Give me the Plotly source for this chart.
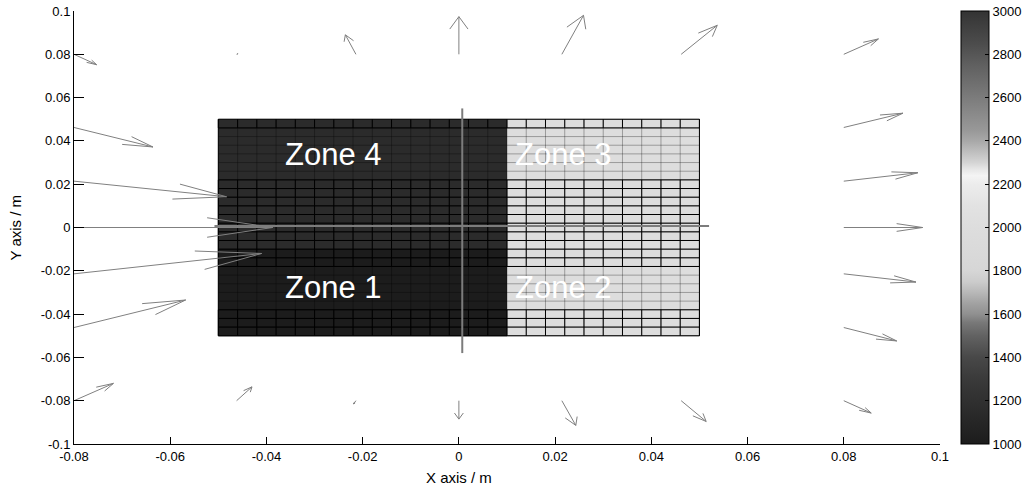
import numpy as np
import plotly.graph_objects as go

# ---------------- data ----------------
# mesh node coordinates (m)
mesh_x = [-0.050, -0.046, -0.042, -0.038, -0.034, -0.030, -0.026, -0.022, -0.018,
          -0.014, -0.010, -0.006, -0.002, 0.002, 0.006, 0.010, 0.014, 0.018,
          0.022, 0.026, 0.030, 0.034, 0.038, 0.042, 0.046, 0.050]
mesh_y = [-0.050, -0.046, -0.042, -0.038, -0.034, -0.030, -0.026, -0.022, -0.018,
          -0.014, -0.010, -0.006, -0.002, 0.002, 0.006, 0.010, 0.014, 0.018,
          0.022, 0.026, 0.030, 0.034, 0.038, 0.042, 0.046, 0.050]

# zone values (colour scale units)
zone_names = ["Zone 1", "Zone 2", "Zone 3", "Zone 4"]
zone_values = [1000, 2000, 2000, 1150]
zone_split_x = 0.010
zone_split_y = -0.010

# horizontal bands of the mesh drawn with black edges (y ranges)
black_bands = [(0.046, 0.050), (-0.018, 0.022), (-0.050, -0.038)]

# zone label anchor positions
label_x = [-0.0366, 0.0112, 0.0112, -0.0366]
label_y = [-0.0275, -0.0275, 0.0335, 0.0335]

# quiver: start points and vectors
arrow_x = [-0.08, -0.08, -0.08, -0.08, -0.08, -0.08, -0.08,
           -0.0462, -0.0214, 0.0, 0.0214, 0.0462,
           0.08, 0.08, 0.08, 0.08, 0.08, 0.08, 0.08,
           -0.0462, -0.0214, 0.0, 0.0214, 0.0462]
arrow_y = [0.08, 0.0462, 0.0214, 0.0, -0.0214, -0.0462, -0.08,
           0.08, 0.08, 0.08, 0.08, 0.08,
           0.08, 0.0462, 0.0214, 0.0, -0.0214, -0.0462, -0.08,
           -0.08, -0.08, -0.08, -0.08, -0.08]
arrow_u = [0.0047, 0.0164, 0.0317, 0.0413, 0.0390, 0.0232, 0.0082,
           0.0003, -0.0022, 0.0, 0.0045, 0.0075,
           0.0072, 0.0123, 0.0154, 0.0164, 0.0150, 0.0110, 0.0057,
           0.0032, -0.0005, 0.0, 0.0029, 0.0052]
arrow_v = [-0.0048, -0.0090, -0.0072, 0.0, 0.0094, 0.0127, 0.0080,
           0.0003, 0.0090, 0.0174, 0.0180, 0.0134,
           0.0071, 0.0066, 0.0039, 0.0, -0.0038, -0.0062, -0.0057,
           0.0064, -0.0015, -0.0085, -0.0114, -0.0096]

# cross-hair lines through the mesh
cross_h_x = [-0.0508, 0.0520]
cross_h_y = [0.0007, 0.0007]
cross_v_x = [0.0007, 0.0007]
cross_v_y = [-0.0580, 0.0550]

# colour map (value, grey level)
cmap_vals = [1000, 1100, 1200, 1300, 1400, 1500, 1560, 1600, 1650, 1700, 1750,
             1800, 1900, 2000, 2100, 2200, 2240, 2270, 2300, 2350, 2400, 2450,
             2550, 2650, 2750, 2850, 2950, 3000]
cmap_grey = [28, 38, 48, 58, 72, 98, 120, 144, 162, 184, 204,
             214, 218, 221, 226, 236, 244, 230, 212, 190, 168, 152,
             133, 114, 96, 76, 60, 51]
cbar_ticks = [1000, 1200, 1400, 1600, 1800, 2000, 2200, 2400, 2600, 2800, 3000]

x_ticks = [-0.08, -0.06, -0.04, -0.02, 0, 0.02, 0.04, 0.06, 0.08, 0.1]
x_ticktext = ["-0.08", "-0.06", "-0.04", "-0.02", "0", "0.02", "0.04", "0.06", "0.08", "0.1"]
y_ticks = [-0.1, -0.08, -0.06, -0.04, -0.02, 0, 0.02, 0.04, 0.06, 0.08, 0.1]
y_ticktext = ["-0.1", "-0.08", "-0.06", "-0.04", "-0.02", "0", "0.02", "0.04", "0.06", "0.08", "0.1"]

# ---------------- build ----------------
mx = np.array(mesh_x)
my = np.array(mesh_y)
cx = (mx[:-1] + mx[1:]) / 2
cy = (my[:-1] + my[1:]) / 2
CX, CY = np.meshgrid(cx, cy)
zmap = dict(zip(zone_names, zone_values))
Z = np.where(CX < zone_split_x,
             np.where(CY < zone_split_y, zmap["Zone 1"], zmap["Zone 4"]),
             np.where(CY < zone_split_y, zmap["Zone 2"], zmap["Zone 3"]))

vmin, vmax = min(cmap_vals), max(cmap_vals)
colorscale = [[(v - vmin) / (vmax - vmin), f"rgb({g},{g},{g})"] for v, g in zip(cmap_vals, cmap_grey)]

fig = go.Figure()
fig.add_trace(go.Heatmap(
    x=mesh_x, y=mesh_y, z=Z, zmin=vmin, zmax=vmax, colorscale=colorscale,
    hoverinfo="skip",
    colorbar=dict(
        thickness=28, thicknessmode="pixels", len=1.0, lenmode="fraction",
        x=1.0242, xanchor="left", xpad=0, y=0.5, yanchor="middle", ypad=0,
        outlinecolor="black", outlinewidth=1,
        tickvals=cbar_ticks, ticktext=[str(t) for t in cbar_ticks],
        ticks="inside", ticklen=4, tickcolor="black",
        tickfont=dict(family="Arial, Liberation Sans", size=13, color="black"),
    ),
))

# faint mesh lines everywhere
fx, fy = [], []
for xv in mesh_x:
    fx += [xv, xv, None]
    fy += [mesh_y[0], mesh_y[-1], None]
for yv in mesh_y:
    fx += [mesh_x[0], mesh_x[-1], None]
    fy += [yv, yv, None]
fig.add_trace(go.Scatter(x=fx, y=fy, mode="lines", line=dict(color="rgba(0,0,0,0.3)", width=1),
                         hoverinfo="skip", showlegend=False))

# black mesh lines in the banded regions
bx, by = [], []
eps = 1e-9
for (y0, y1) in black_bands:
    for xv in mesh_x:
        bx += [xv, xv, None]
        by += [y0, y1, None]
    for yv in mesh_y:
        if y0 - eps <= yv <= y1 + eps:
            bx += [mesh_x[0], mesh_x[-1], None]
            by += [yv, yv, None]
# outer boundary
for xv in (mesh_x[0], mesh_x[-1]):
    bx += [xv, xv, None]
    by += [mesh_y[0], mesh_y[-1], None]
fig.add_trace(go.Scatter(x=bx, y=by, mode="lines", line=dict(color="black", width=1),
                         hoverinfo="skip", showlegend=False))

# cross-hair lines
fig.add_trace(go.Scatter(x=cross_h_x + [None] + cross_v_x, y=cross_h_y + [None] + cross_v_y,
                         mode="lines", line=dict(color="#7c7c7c", width=2),
                         hoverinfo="skip", showlegend=False))

# quiver arrows (MATLAB-style heads)
alpha, beta = 0.33, 0.33
ax_, ay_ = [], []
for x0, y0, u, v in zip(arrow_x, arrow_y, arrow_u, arrow_v):
    tx, ty = x0 + u, y0 + v
    ax_ += [x0, tx, None]
    ay_ += [y0, ty, None]
    h1x = tx - alpha * (u + beta * v)
    h1y = ty - alpha * (v - beta * u)
    h2x = tx - alpha * (u - beta * v)
    h2y = ty - alpha * (v + beta * u)
    ax_ += [h1x, tx, h2x, None]
    ay_ += [h1y, ty, h2y, None]
fig.add_trace(go.Scatter(x=ax_, y=ay_, mode="lines", line=dict(color="#808080", width=1),
                         hoverinfo="skip", showlegend=False))

for name, lx, ly in zip(zone_names, label_x, label_y):
    fig.add_annotation(x=lx, y=ly, xref="x", yref="y", text=name, showarrow=False,
                       xanchor="left", yanchor="middle",
                       font=dict(family="Arial, Liberation Sans", size=31, color="white"))

# axis titles
fig.add_annotation(x=0.4446, y=-0.0785, xref="paper", yref="paper", text="X axis / m",
                   showarrow=False, xanchor="center", yanchor="middle",
                   font=dict(family="Arial, Liberation Sans", size=15, color="black"))
fig.add_annotation(x=-0.0681, y=0.5, xref="paper", yref="paper", text="Y axis / m",
                   showarrow=False, xanchor="center", yanchor="middle", textangle=-90,
                   font=dict(family="Arial, Liberation Sans", size=15, color="black"))

axis_font = dict(family="Arial, Liberation Sans", size=13, color="black")
fig.update_xaxes(range=[-0.08, 0.1], tickvals=x_ticks, ticktext=x_ticktext,
                 showgrid=False, zeroline=False, showline=True, linecolor="black", linewidth=1,
                 ticks="inside", ticklen=7, tickcolor="black", tickfont=axis_font, mirror=False)
fig.update_yaxes(range=[-0.1, 0.1], tickvals=y_ticks, ticktext=y_ticktext,
                 showgrid=False, zeroline=False, showline=True, linecolor="black", linewidth=1,
                 ticks="inside", ticklen=10, tickcolor="black", tickfont=axis_font, mirror=False)

fig.update_layout(width=1027, height=490,
                  margin=dict(l=74, r=87, t=11, b=46, autoexpand=False),
                  plot_bgcolor="white", paper_bgcolor="white", showlegend=False)

# remove the default page margin so the figure sits at the window's top-left corner
fig.write_html("out.html", config={"displayModeBar": False},
               post_script="document.body.style.margin='0px';")
